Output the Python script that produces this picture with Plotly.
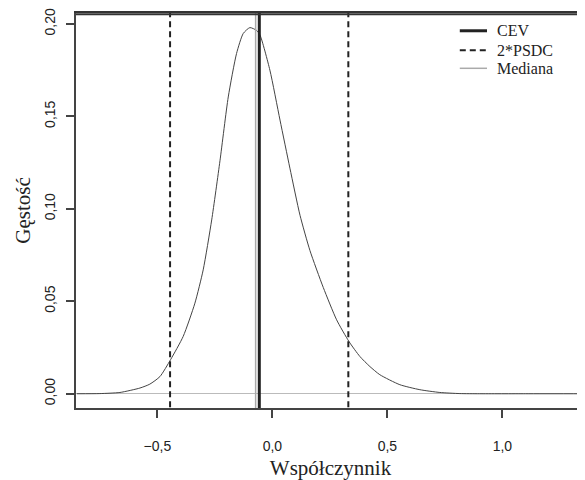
import plotly.graph_objects as go

# Density curve
x_density = [-0.85, -0.75, -0.663, -0.576, -0.533, -0.489, -0.443, -0.388, -0.337, -0.301,
             -0.264, -0.228, -0.192, -0.156, -0.127, -0.098, -0.069, -0.054, -0.011, 0.033,
             0.076, 0.12, 0.163, 0.221, 0.279, 0.333, 0.38, 0.424, 0.467, 0.554,
             0.641, 0.728, 0.815, 0.9, 1.1, 1.36]
y_density = [0.0, 0.0001, 0.0007, 0.0031, 0.0052, 0.0093, 0.0184, 0.031, 0.049, 0.067,
             0.094, 0.126, 0.1605, 0.184, 0.1948, 0.198, 0.1965, 0.194, 0.175, 0.148,
             0.122, 0.0965, 0.0775, 0.0575, 0.040, 0.0282, 0.0202, 0.0147, 0.0103, 0.0049,
             0.0022, 0.0007, 0.0001, 0.0, 0.0, 0.0]

cev_value = -0.057
psdc_bounds = [-0.445, 0.330]
median_value = -0.073

x_ticks = [-0.5, 0.0, 0.5, 1.0]
y_ticks = [0.00, 0.05, 0.10, 0.15, 0.20]

x_range = [-0.854, 1.359]
y_range = [-0.0077, 0.2059]

legend_labels = ["CEV", "2*PSDC", "Mediana"]

fig = go.Figure()

fig.add_trace(go.Scatter(x=x_density, y=y_density, mode="lines",
                         line=dict(color="#444444", width=1, shape="spline", smoothing=0.6),
                         showlegend=False, hoverinfo="skip"))

fig.add_trace(go.Scatter(x=[median_value, median_value], y=[y_range[0] - 1, y_range[1] + 1],
                         mode="lines", name="Mediana", showlegend=False,
                         line=dict(color="#aaaaaa", width=1.5)))

fig.add_trace(go.Scatter(x=[cev_value, cev_value], y=[y_range[0] - 1, y_range[1] + 1],
                         mode="lines", name="CEV", showlegend=False,
                         line=dict(color="#222222", width=3)))

for b in psdc_bounds:
    fig.add_trace(go.Scatter(x=[b, b], y=[y_range[0] - 1, y_range[1] + 1],
                             mode="lines", name="2*PSDC", showlegend=False,
                             line=dict(color="#222222", width=2, dash="6px,4px")))

# invisible trace on a top x-axis, so that axis (and its line = top of the box) is drawn
fig.add_trace(go.Scatter(x=[x_range[0]], y=[y_range[0]], xaxis="x2", mode="markers",
                         marker=dict(opacity=0), showlegend=False, hoverinfo="skip"))

# top side of the plot box (backup)
fig.add_shape(type="line", xref="paper", yref="paper", x0=0, x1=1, y0=0.997, y1=0.997,
              line=dict(color="#333333", width=2), layer="above")

# manual legend (R-style compact rows)
legend_styles = [dict(color="#222222", width=3),
                 dict(color="#222222", width=2, dash="6px,4px"),
                 dict(color="#aaaaaa", width=1.5)]
legend_rows_y = [0.955, 0.906, 0.860]
for lab, sty, yy in zip(legend_labels, legend_styles, legend_rows_y):
    fig.add_shape(type="line", xref="paper", yref="paper",
                  x0=0.754, x1=0.8075, y0=yy, y1=yy, line=sty)
    fig.add_annotation(xref="paper", yref="paper", x=0.823, y=yy, text=lab,
                       showarrow=False, xanchor="left", yanchor="middle",
                       font=dict(family="Liberation Serif", size=16, color="#222222"))

fig.update_layout(
    width=577, height=472,
    margin=dict(l=68, r=0, t=5, b=72, autoexpand=False),
    paper_bgcolor="white", plot_bgcolor="white",
    separators=", ",
    showlegend=False,
    xaxis=dict(range=x_range, tickvals=x_ticks, tickformat=".1f",
               showgrid=False, zeroline=False, automargin=False,
               showline=True, linecolor="#444444", linewidth=1.5, mirror=False,
               ticks="outside", ticklen=8, tickcolor="#444444", tickwidth=1.5,
               ticklabelstandoff=16, ticklabeloverflow="allow",
               tickfont=dict(family="Liberation Sans", size=14, color="#222222"),
               title=dict(text="Współczynnik", standoff=13,
                          font=dict(family="Liberation Serif", size=21, color="#222222"))),
    xaxis2=dict(range=x_range, overlaying="x", side="top", anchor="y",
                showline=True, linecolor="#333333", linewidth=2,
                showticklabels=False, ticks="", showgrid=False, zeroline=False,
                automargin=False),
    yaxis=dict(range=y_range, tickvals=y_ticks, tickformat=".2f",
               showgrid=False, zeroline=True, zerolinecolor="#bbbbbb", zerolinewidth=1,
               showline=True, linecolor="#444444", linewidth=1.5, mirror=False,
               automargin=False, ticklabeloverflow="allow",
               ticks="outside", ticklen=8, tickcolor="#444444", tickwidth=1.5,
               tickangle=-90, ticklabelstandoff=6,
               tickfont=dict(family="Liberation Sans", size=14, color="#222222"),
               title=dict(text="Gęstość", standoff=5,
                          font=dict(family="Liberation Serif", size=21, color="#222222"))),
)

fig.write_html("out.html")
